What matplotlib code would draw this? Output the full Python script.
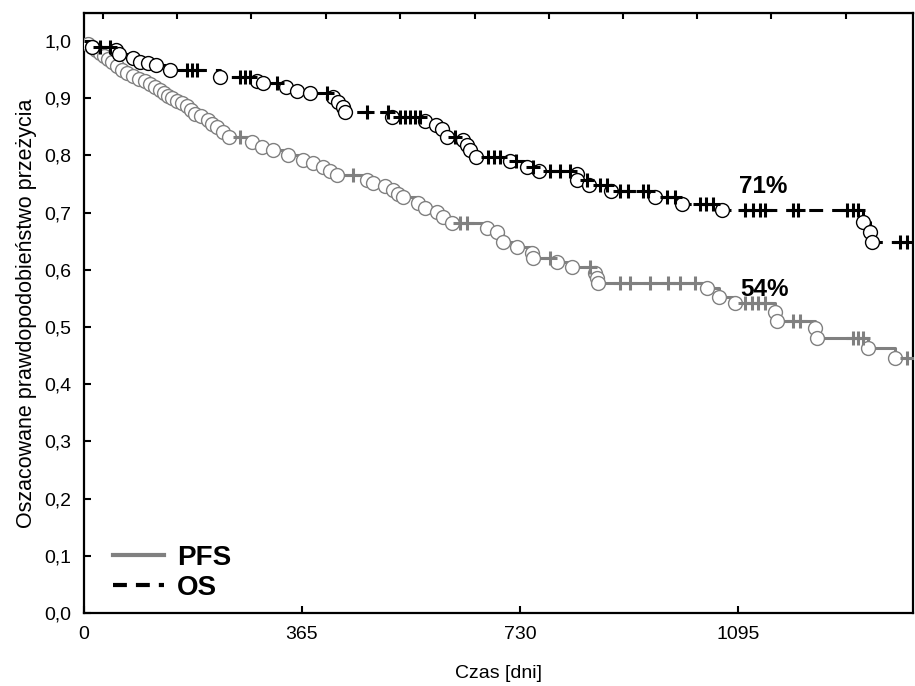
import numpy as np
import matplotlib
matplotlib.use('Agg')
import matplotlib.pyplot as plt
from matplotlib.ticker import FuncFormatter
from matplotlib.lines import Line2D

plt.rcParams['font.family'] = ['Liberation Sans', 'DejaVu Sans']
plt.rcParams['lines.scale_dashes'] = False

# OS (overall survival): event times [days] and survival after each event
os_event_days = [13, 54, 59, 82, 94, 107, 121, 144, 228, 289, 299, 339, 357, 378,
                 417, 425, 434, 437, 515, 571, 590, 599, 608, 635, 641, 646, 657,
                 713, 741, 762, 825, 826, 845, 882, 956, 1002, 1069, 1305, 1316, 1320]
os_event_surv = [0.990, 0.985, 0.977, 0.971, 0.964, 0.961, 0.958, 0.949, 0.938, 0.930,
                 0.927, 0.919, 0.913, 0.910, 0.902, 0.894, 0.885, 0.876, 0.867, 0.861,
                 0.853, 0.846, 0.833, 0.827, 0.818, 0.810, 0.798, 0.791, 0.780, 0.773,
                 0.767, 0.757, 0.748, 0.738, 0.728, 0.715, 0.705, 0.684, 0.667, 0.648]
os_censor_days = [27, 44, 172, 181, 189, 261, 270, 278, 323, 407, 474, 509, 529, 537,
                  546, 554, 563, 621, 676, 686, 697, 724, 752, 780, 797, 814, 842, 864,
                  876, 897, 911, 936, 944, 976, 989, 1031, 1042, 1053, 1107, 1120, 1132,
                  1140, 1187, 1195, 1277, 1287, 1296, 1366, 1378]

# PFS (progression-free survival)
pfs_event_days = [7, 13, 20, 27, 34, 40, 47, 55, 64, 72, 82, 92, 102, 111, 119, 127,
                  134, 141, 147, 156, 164, 172, 179, 186, 196, 208, 214, 223, 233, 243,
                  281, 298, 316, 342, 367, 383, 400, 412, 424, 474, 484, 504, 517, 526,
                  534, 559, 571, 591, 601, 616, 675, 691, 702, 725, 750, 752, 792, 817,
                  856, 859, 861, 1043, 1063, 1090, 1157, 1160, 1224, 1227, 1313, 1358]
pfs_event_surv = [0.995, 0.990, 0.984, 0.979, 0.974, 0.969, 0.963, 0.956, 0.949, 0.944,
                  0.939, 0.934, 0.930, 0.925, 0.920, 0.914, 0.909, 0.904, 0.900, 0.896,
                  0.892, 0.887, 0.880, 0.873, 0.869, 0.862, 0.855, 0.850, 0.841, 0.832,
                  0.823, 0.815, 0.809, 0.801, 0.792, 0.787, 0.780, 0.773, 0.766, 0.757,
                  0.752, 0.747, 0.740, 0.733, 0.727, 0.717, 0.708, 0.701, 0.692, 0.682,
                  0.673, 0.666, 0.649, 0.640, 0.629, 0.621, 0.614, 0.605, 0.594, 0.586,
                  0.577, 0.568, 0.552, 0.542, 0.526, 0.510, 0.498, 0.481, 0.463, 0.446]
pfs_censor_days = [261, 450, 630, 641, 780, 847, 897, 914, 948, 978, 998, 1023, 1107,
                   1118, 1128, 1140, 1187, 1199, 1287, 1296, 1304, 1378]

follow_up_end = 1388
x_ticks = [0, 365, 730, 1095]
top_ticks = [31, 155, 280, 405, 529, 654, 779, 903, 1027, 1151, 1276]
y_ticks = np.arange(0, 1.01, 0.1)
labels = {'os': '71%', 'pfs': '54%'}
label_pos = {'os': (1137, 0.746), 'pfs': (1140, 0.565)}

GRAY = '#808080'


def step_curve(ev_days, ev_surv, end):
    xs = np.concatenate([[0], ev_days, [end]])
    ys = np.concatenate([[1.0], ev_surv, [ev_surv[-1]]])
    return xs, ys


def surv_at(ev_days, ev_surv, t):
    idx = np.searchsorted(ev_days, t, side='right')
    return np.asarray([1.0] + list(ev_surv))[idx]


fig = plt.figure(figsize=(9.15, 6.86), dpi=100)
ax = fig.add_axes([0.0918, 0.1064, 0.906, 0.8746])

# PFS - szara, ciagla
xs, ys = step_curve(pfs_event_days, pfs_event_surv, follow_up_end)
ax.step(xs, ys, where='post', color=GRAY, lw=2.2, zorder=2)
ax.plot(pfs_event_days, pfs_event_surv, 'o', ms=10, mfc='white', mec=GRAY, mew=1.0, zorder=3)
ax.plot(pfs_censor_days, surv_at(pfs_event_days, pfs_event_surv, pfs_censor_days), '+',
        ms=10, mew=2.2, color=GRAY, zorder=3)

# OS - czarna, przerywana
xs, ys = step_curve(os_event_days, os_event_surv, follow_up_end)
ax.step(xs, ys, where='post', color='black', lw=2.2, dashes=(10, 6.5), zorder=4)
ax.plot(os_event_days, os_event_surv, 'o', ms=10, mfc='white', mec='black', mew=1.0, zorder=5)
ax.plot(os_censor_days, surv_at(os_event_days, os_event_surv, os_censor_days), '+',
        ms=10, mew=2.2, color='black', zorder=5)

for k in ('os', 'pfs'):
    ax.text(*label_pos[k], labels[k], fontsize=17.5, fontweight='bold',
            ha='center', va='center', zorder=6)

ax.set_xlim(0, follow_up_end)
ax.set_ylim(0, 1.049)
ax.set_xticks(x_ticks)
ax.set_yticks(y_ticks)
ax.yaxis.set_major_formatter(FuncFormatter(lambda v, p: f'{v:.1f}'.replace('.', ',')))
ax.tick_params(direction='in', length=5, width=1.5, labelsize=14, pad=9)
for s in ax.spines.values():
    s.set_linewidth(1.6)

top = ax.secondary_xaxis('top')
top.set_xticks(top_ticks)
top.set_xticklabels([])
top.tick_params(direction='in', length=4, width=1.5)

ax.set_xlabel('Czas [dni]', fontsize=14, labelpad=16)
ax.set_ylabel('Oszacowane prawdopodobieństwo przeżycia', fontsize=15.5, labelpad=5)

handles = [Line2D([], [], color=GRAY, lw=3),
           Line2D([], [], color='black', lw=3, dashes=(10, 6.5))]
ax.legend(handles, ['PFS', 'OS'], loc='lower left', bbox_to_anchor=(0.035, 0.02),
          frameon=False, prop={'weight': 'bold', 'size': 20}, handlelength=1.85,
          handletextpad=0.45, borderaxespad=0, borderpad=0, labelspacing=0.15)

fig.savefig('out.png', dpi=100)
